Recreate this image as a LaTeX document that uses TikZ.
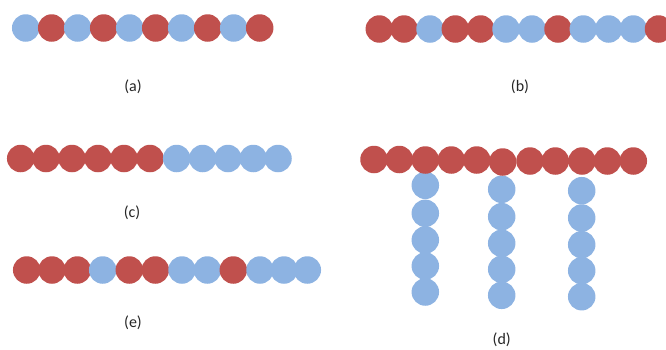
\documentclass[tikz,border=0pt]{standalone}
\usepackage{fontspec}
\setmainfont{Carlito}
\definecolor{bbl}{HTML}{8DB3E2}
\definecolor{rrd}{HTML}{C0504D}
\tikzset{
  bead/.style={circle, inner sep=0pt, minimum size=27.5pt, draw=none},
  B/.style={bead, fill=bbl},
  R/.style={bead, fill=rrd},
  lbl/.style={font=\fontsize{16}{18}\selectfont, text=black!85}
}
\begin{document}
\begin{tikzpicture}[x=1pt,y=-1pt]
\useasboundingbox (0,0) rectangle (666,349);
% (a)
\foreach \s [count=\i] in {B,R,B,R,B,R,B,R,B,R}
  \node[\s] (a\i) at ({25.7+26*(\i-1)},28) {};
\node[lbl] (la) at (133,87) {(a)};
% (b)
\foreach \s/\x [count=\i] in {R/379.3,R/404,B/430,R/455.3,R/480.7,B/506,B/532,R/558,B/583.3,B/608.7,B/633.3,R/658.5}
  \node[\s] (b\i) at (\x,29) {};
\node[lbl] (lb) at (520,87) {(b)};
% (c)
\foreach \s/\x [count=\i] in {R/20.7,R/46,R/72,R/98,R/124,R/150,B/176.7,B/202.7,B/228,B/253.3,B/278}
  \node[\s] (c\i) at (\x,158.5) {};
\node[lbl] (lc) at (132,213) {(c)};
% (e)
\foreach \s/\x [count=\i] in {R/26.7,R/52,R/77.3,B/102.7,R/129.3,R/155.3,B/182,B/207.3,R/233.3,B/260,B/284,B/307.3}
  \node[\s] (e\i) at (\x,270) {};
\node[lbl] (le) at (133,323) {(e)};
% (d) side chains first
\foreach \y [count=\i] in {185.3,213.3,240,266,292}
  \node[B] (d1s\i) at (425.3,\y) {};
\foreach \y [count=\i] in {189.3,216.7,243.3,269.3,295.3}
  \node[B] (d2s\i) at (501.7,\y) {};
\foreach \y [count=\i] in {190.7,218,244.7,270.7,296.7}
  \node[B] (d3s\i) at (581.7,\y) {};
% (d) backbone
\foreach \x/\y [count=\i] in {374/159.5,399.3/159.5,425.3/160,451.3/160,476.7/160,502.7/162,530/161,555.3/161,582/161,607.3/161,633.3/161}
  \node[R] (d\i) at (\x,\y) {};
\node[lbl] (ld) at (501.7,340) {(d)};
\end{tikzpicture}
\end{document}
